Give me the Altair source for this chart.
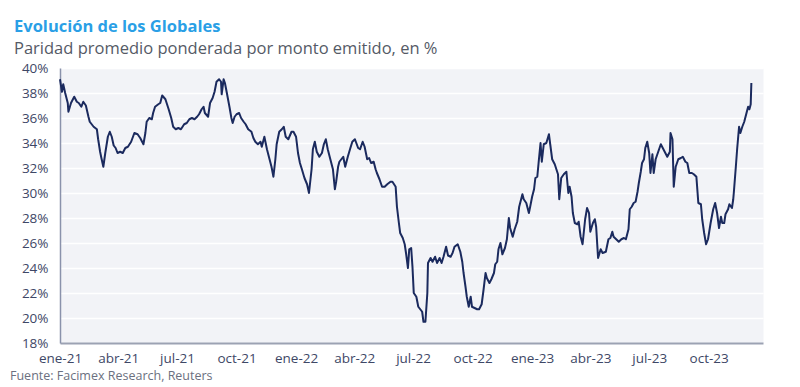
import altair as alt
import pandas as pd

title = "Evolución de los Globales"
subtitle = "Paridad promedio ponderada por monto emitido, en %"
source = "Fuente: Facimex Research, Reuters"

start = "2021-01-01"
end = "2023-12-24"

# days since 2021-01-01
days = [0, 3, 5, 8, 12, 13, 17, 22, 26, 29, 33, 36, 40, 44, 46, 52, 57, 59, 62, 64,
        67, 70, 74, 77, 80, 83, 86, 89, 93, 97, 101, 105, 110, 115, 120, 124, 129, 132, 134, 138,
        142, 144,
        147, 152, 155, 158, 163, 168, 172, 175, 179, 183, 187, 192, 196, 200, 204, 208, 212, 215, 219, 222,
        224, 229, 232, 236, 239, 242, 246, 249, 250, 253, 255, 258, 262, 265, 267, 270, 273, 277, 280, 284,
        287, 291, 296, 299,
        302, 306, 310, 312, 316, 320, 324, 327, 330, 333, 335, 339, 343, 346, 349, 353, 358, 361, 365, 368,
        371, 374, 378, 382, 385, 389, 391, 394, 397, 401, 405, 408, 411, 414, 418, 422, 425, 427, 430, 432,
        435, 438, 441, 445, 449, 452, 456,
        461, 464, 468, 471, 475, 478, 481, 485, 488, 490, 494, 498, 502, 506, 511, 514, 519, 521, 524, 526,
        530, 533, 535, 538, 540, 543, 545, 547, 551, 554, 557, 560, 562, 565, 568, 569, 573, 576, 580, 583,
        587, 590, 593, 597, 600, 604, 607, 610,
        615, 619, 622, 624, 627, 629, 632, 635, 637, 641, 645, 648, 652, 655, 658, 660, 664, 667, 671, 673,
        676, 678, 681, 684, 688, 691, 694, 696, 700, 703, 707, 710, 715, 717, 721, 725, 727, 730, 733, 735,
        738, 740, 743, 745, 748, 752, 756, 758, 761, 765,
        770, 772, 775, 779, 783, 786, 788, 791, 793, 796, 800, 802, 805, 808, 812, 815, 818, 820, 824, 827,
        829, 832, 836, 839, 844, 848, 851, 854, 856, 860, 864, 868, 872, 875, 879, 881, 884, 887, 890, 893,
        895, 898, 900, 903, 905, 908, 911, 913, 916, 918, 921,
        925, 929, 932, 935, 939, 943, 944, 947, 949, 952, 956, 960, 963, 967, 970, 973, 977, 980, 984, 987,
        991, 993, 996, 999, 1002, 1006, 1010, 1013, 1016, 1019, 1022, 1024, 1027, 1029, 1033, 1035, 1039, 1041, 1042, 1045,
        1047, 1050, 1052, 1055, 1058, 1061, 1064, 1066, 1068, 1069]

paridad = [39.1, 38.1, 38.7, 38.0, 37.2, 36.5, 37.2, 37.7, 37.3, 37.2, 36.9, 37.3, 37.0, 36.1, 35.7, 35.3, 35.1, 34.3, 33.3, 32.8,
           32.1, 33.2, 34.5, 34.9, 34.5, 33.8, 33.6, 33.2, 33.3, 33.2, 33.6, 33.7, 34.1, 34.8, 34.7, 34.4, 33.9, 34.8, 35.7, 36.0,
           35.9, 36.4,
           36.9, 37.1, 37.2, 37.8, 37.5, 36.7, 36.0, 35.3, 35.1, 35.2, 35.1, 35.5, 35.6, 35.9, 36.0, 35.9, 36.1, 36.3, 36.7, 36.9,
           36.4, 36.1, 37.2, 37.6, 38.1, 38.9, 39.1, 38.9, 37.9, 39.1, 38.8, 38.0, 36.9, 36.0, 35.6, 36.1, 36.3, 36.4, 36.0, 35.7,
           35.5, 35.1, 34.9, 34.4,
           34.1, 33.9, 34.1, 33.7, 34.5, 33.5, 32.7, 32.1, 31.3, 32.7, 33.9, 34.9, 35.1, 35.3, 34.5, 34.3, 34.9, 34.9, 34.5, 33.2,
           32.4, 31.9, 31.2, 30.7, 30.0, 31.9, 33.5, 34.1, 33.3, 32.9, 33.2, 33.9, 34.3, 33.5, 32.7, 31.9, 30.3, 30.9, 32.1, 32.5,
           32.7, 32.9, 32.1, 32.9, 33.6, 34.1, 34.3,
           33.6, 33.5, 34.1, 33.7, 32.7, 32.8, 32.4, 32.5, 31.9, 31.6, 31.1, 30.5, 30.5, 30.7, 30.9, 30.9, 30.5, 28.9, 27.6, 26.8,
           26.4, 25.9, 25.2, 24.0, 25.5, 25.6, 24.1, 22.0, 21.7, 20.9, 20.7, 20.5, 19.7, 19.7, 22.0, 24.4, 24.8, 24.5, 24.9, 24.4,
           24.8, 24.4, 24.9, 25.7, 25.0, 24.9, 25.2, 25.7,
           25.9, 25.3, 24.5, 23.6, 22.5, 21.7, 20.9, 21.7, 20.9, 20.8, 20.7, 20.7, 21.1, 22.3, 23.6, 23.2, 22.8, 23.1, 23.6, 24.3,
           24.5, 25.5, 26.0, 25.1, 25.6, 26.3, 28.0, 27.2, 26.5, 27.1, 27.7, 28.9, 29.9, 29.5, 29.2, 28.4, 28.9, 29.7, 30.3, 31.2,
           31.3, 32.4, 34.0, 32.5, 33.9, 34.0, 34.7, 33.9, 32.7, 32.3,
           31.5, 29.5, 31.2, 31.5, 31.7, 30.0, 30.5, 29.7, 28.4, 27.6, 27.5, 27.7, 26.5, 25.9, 27.9, 28.8, 28.4, 26.9, 27.6, 27.9,
           27.3, 24.8, 25.5, 25.2, 25.3, 26.3, 26.4, 26.9, 26.5, 26.3, 26.1, 26.3, 26.4, 26.3, 27.1, 28.7, 28.9, 29.2, 29.3, 30.1,
           30.8, 31.7, 32.4, 32.7, 33.6, 34.1, 33.2, 31.6, 33.1, 31.6, 32.7,
           33.3, 33.9, 33.6, 33.3, 32.9, 33.3, 34.8, 34.3, 30.5, 32.1, 32.7, 32.8, 32.9, 32.5, 32.4, 31.6, 31.6, 31.5, 31.3, 29.2,
           29.1, 27.9, 26.8, 25.9, 26.3, 27.6, 28.7, 29.2, 28.4, 27.2, 28.1, 27.6, 27.6, 28.3, 28.7, 29.1, 28.8, 29.5, 30.1, 32.1,
           33.5, 35.3, 34.8, 35.3, 35.7, 36.3, 36.9, 36.7, 37.1, 38.8]

tick_dates = ["2021-01-01", "2021-04-01", "2021-07-01", "2021-10-01",
              "2022-01-01", "2022-04-01", "2022-07-01", "2022-10-01",
              "2023-01-01", "2023-04-01", "2023-07-01", "2023-10-01"]
y_ticks = [18, 20, 22, 24, 26, 28, 30, 32, 34, 36, 38, 40]

def ms(d):
    return int(pd.Timestamp(d, tz="UTC").value // 10**6)

fechas = (pd.Timestamp(start) + pd.to_timedelta(days, unit="D")).strftime("%Y-%m-%d")
df = pd.DataFrame({"fecha": fechas, "paridad": paridad})

FONT = "Open Sans"
month_expr = ("['ene','feb','mar','abr','may','jun','jul','ago','sep','oct','nov','dic']"
              "[utcmonth(datum.value)] + '-' + utcFormat(datum.value, '%y')")

line = alt.Chart(df).mark_line(color="#1b2a5e", strokeWidth=2, strokeJoin="round").encode(
    x=alt.X("fecha:T",
            scale=alt.Scale(type="utc", domain=[ms(start), ms(end)]),
            axis=alt.Axis(values=[ms(d) for d in tick_dates], labelExpr=month_expr,
                          grid=False, ticks=False, domainColor="#9ca2b3", domainWidth=2,
                          labelPadding=8, labelFontSize=13.5, labelColor="#3e4766",
                          labelFont=FONT, title=None, labelOverlap=False,
                          labelFlush=False, labelBound=False)),
    y=alt.Y("paridad:Q",
            scale=alt.Scale(domain=[18, 40], nice=False, zero=False),
            axis=alt.Axis(values=y_ticks, labelExpr="datum.value + '%'",
                          grid=True, gridColor="#ffffff", gridWidth=1.5, ticks=False,
                          domainColor="#8a92ab", domainWidth=1.5, labelPadding=12,
                          labelFontSize=13.5, labelColor="#3e4766", labelFont=FONT,
                          title=None)),
)

t1 = alt.Chart(pd.DataFrame({"t": [title]})).mark_text(
    align="left", baseline="alphabetic", fontSize=16.5, fontWeight="bold",
    color="#2a9fe6", font=FONT).encode(x=alt.value(-46), y=alt.value(-36), text="t:N")
t2 = alt.Chart(pd.DataFrame({"t": [subtitle]})).mark_text(
    align="left", baseline="alphabetic", fontSize=16.5,
    color="#555a66", font=FONT).encode(x=alt.value(-46), y=alt.value(-14.5), text="t:N")
t3 = alt.Chart(pd.DataFrame({"t": [source]})).mark_text(
    align="left", baseline="alphabetic", fontSize=12.5,
    color="#6b7080", font=FONT).encode(x=alt.value(-50), y=alt.value(312), text="t:N")

chart = alt.layer(line, t1, t2, t3).properties(
    width=703, height=275,
    padding={"left": 52, "top": 60, "right": 17, "bottom": 44},
    autosize=alt.AutoSizeParams(type="none"),
).configure_view(fill="#f2f3f7", stroke="transparent")

chart.save("out.html", embed_options={"renderer": "svg", "actions": False})
